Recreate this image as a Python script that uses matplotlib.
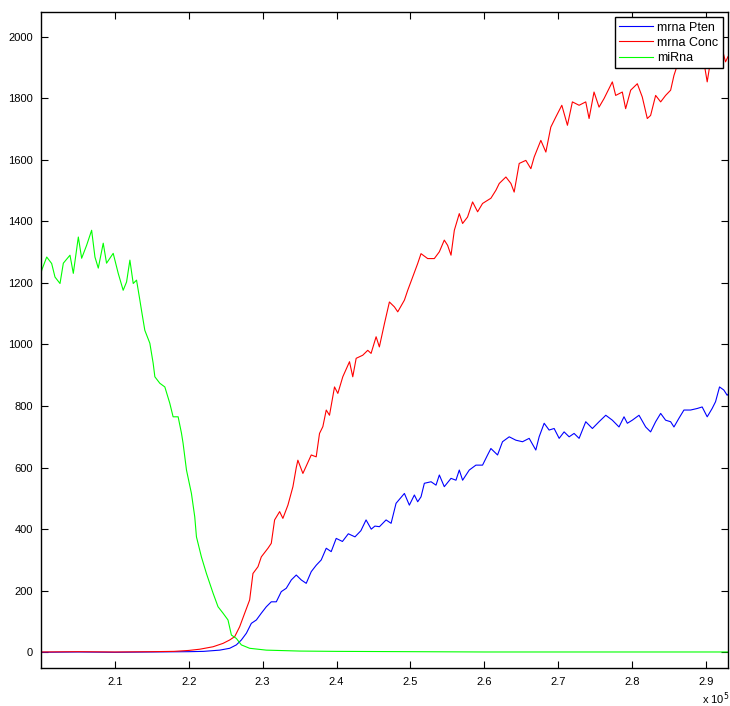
import numpy as np
import matplotlib
matplotlib.use('Agg')
import matplotlib.pyplot as plt
from matplotlib.ticker import FuncFormatter

plt.rcParams['font.family'] = ['Liberation Sans', 'DejaVu Sans']

# time axis values are in units of 1e5
green_x = [2.000, 2.0009, 2.0077, 2.0144, 2.0189, 2.0257, 2.0302, 2.0392, 2.0437, 2.0505,
           2.055, 2.0617, 2.0685, 2.073, 2.0775, 2.0842, 2.0887, 2.0977, 2.1045, 2.1112,
           2.1158, 2.1203, 2.1248, 2.1293, 2.1338, 2.136, 2.1405, 2.1473, 2.1518, 2.1541,
           2.1608, 2.1676, 2.1743, 2.1788, 2.1856, 2.1901, 2.1923, 2.1969, 2.2036, 2.2081,
           2.2104, 2.2171, 2.2239, 2.2284, 2.2329, 2.2396, 2.2464, 2.2531, 2.2577, 2.2644,
           2.2712, 2.2824, 2.305, 2.35, 2.40, 2.50, 2.60, 2.70, 2.80, 2.93]
green_y = [1230, 1241, 1284, 1263, 1219, 1198, 1264, 1290, 1231, 1349,
           1280, 1322, 1371, 1284, 1248, 1329, 1264, 1296, 1231, 1176,
           1203, 1274, 1198, 1209, 1144, 1111, 1046, 1004, 939, 895,
           874, 862, 809, 765, 765, 712, 679, 592, 516, 440,
           375, 310, 256, 224, 192, 148, 127, 105, 56, 45,
           24, 13, 7, 4, 3, 2, 1, 1, 1, 1]

red_x = [2.00, 2.05, 2.10, 2.15, 2.18, 2.20, 2.2149, 2.2329, 2.2464, 2.2554,
         2.2622, 2.2689, 2.2757, 2.2824, 2.2869, 2.2937, 2.2982, 2.3072, 2.3117, 2.3162,
         2.323, 2.3274, 2.3342, 2.341, 2.3455, 2.3477, 2.3545, 2.3658, 2.3725, 2.377,
         2.3815, 2.3861, 2.3905, 2.3973, 2.4018, 2.4085, 2.4176, 2.422, 2.4266, 2.4355,
         2.4423, 2.4468, 2.4536, 2.458, 2.4649, 2.4716, 2.4784, 2.4829, 2.4919, 2.4964,
         2.5031, 2.5099, 2.5144, 2.5234, 2.5324, 2.5392, 2.5459, 2.5504, 2.555, 2.5595,
         2.5662, 2.5707, 2.5774, 2.5842, 2.591, 2.5977, 2.6023, 2.609, 2.6158, 2.6203,
         2.6293, 2.6361, 2.6405, 2.6473, 2.6563, 2.6631, 2.6676, 2.6766, 2.6834, 2.6901,
         2.6969, 2.705, 2.7126, 2.7193, 2.7284, 2.7374, 2.7419, 2.7486, 2.7554, 2.7622,
         2.7734, 2.7779, 2.7869, 2.7914, 2.7982, 2.8072, 2.8139, 2.8207, 2.8252, 2.832,
         2.8388, 2.8455, 2.8523, 2.8568, 2.8635, 2.8726, 2.8815, 2.8905, 2.8973, 2.9018,
         2.9064, 2.9108, 2.9176, 2.922, 2.9266, 2.93]
red_y = [1, 2, 1, 2, 3, 6, 10, 18, 29, 40,
         51, 83, 127, 170, 256, 278, 310, 338, 354, 430,
         457, 435, 478, 538, 600, 624, 581, 641, 635, 711,
         733, 787, 770, 862, 841, 895, 944, 895, 955, 965,
         981, 971, 1025, 992, 1068, 1138, 1122, 1106, 1144, 1176,
         1219, 1263, 1295, 1279, 1279, 1301, 1339, 1322, 1290, 1371,
         1425, 1393, 1414, 1463, 1431, 1458, 1465, 1475, 1501, 1523,
         1544, 1523, 1495, 1588, 1598, 1571, 1609, 1663, 1625, 1706,
         1739, 1777, 1712, 1788, 1777, 1788, 1734, 1820, 1771, 1799,
         1853, 1809, 1820, 1766, 1826, 1847, 1804, 1734, 1744, 1809,
         1788, 1809, 1826, 1874, 1923, 1901, 1912, 1923, 1918, 1853,
         1923, 1988, 1945, 1961, 1918, 1935]

blue_x = [2.00, 2.05, 2.10, 2.15, 2.20, 2.22, 2.2419, 2.2554, 2.2644, 2.2712,
          2.278, 2.2847, 2.2915, 2.2982, 2.305, 2.3117, 2.3185, 2.3252, 2.332, 2.3388,
          2.3455, 2.3523, 2.359, 2.3658, 2.3726, 2.3793, 2.3861, 2.3928, 2.3996, 2.408,
          2.416, 2.425, 2.433, 2.44, 2.447, 2.452, 2.4581, 2.4671, 2.4739, 2.4806,
          2.4919, 2.4986, 2.5054, 2.5099, 2.5144, 2.5189, 2.528, 2.5347, 2.5392, 2.5459,
          2.555, 2.5617, 2.5662, 2.5707, 2.5797, 2.5887, 2.5977, 2.6045, 2.609, 2.618,
          2.6247, 2.6338, 2.6428, 2.6518, 2.6608, 2.6698, 2.6743, 2.6811, 2.6878, 2.6946,
          2.7014, 2.7081, 2.7149, 2.7216, 2.7284, 2.7374, 2.7464, 2.7554, 2.7645, 2.7734,
          2.7824, 2.7892, 2.7937, 2.8004, 2.8095, 2.8185, 2.8252, 2.832, 2.8388, 2.8455,
          2.8523, 2.8568, 2.8635, 2.8703, 2.8793, 2.8883, 2.895, 2.9018, 2.9085, 2.9131,
          2.9185, 2.9243, 2.9288, 2.93]
blue_y = [0, 1, 0, 1, 2, 3, 7, 13, 24, 40,
          62, 94, 105, 127, 148, 164, 164, 197, 208, 235,
          251, 235, 224, 262, 283, 300, 338, 327, 370, 360,
          385, 375, 395, 430, 400, 410, 408, 430, 419, 484,
          516, 478, 511, 489, 505, 549, 554, 543, 576, 538,
          565, 559, 592, 559, 592, 608, 608, 641, 662, 641,
          684, 700, 689, 684, 695, 657, 700, 744, 722, 727,
          695, 716, 700, 711, 695, 749, 727, 749, 770, 754,
          732, 765, 744, 754, 770, 732, 716, 749, 776, 754,
          749, 732, 760, 787, 787, 792, 797, 765, 792, 814,
          862, 852, 835, 838]

x_ticks = [2.1, 2.2, 2.3, 2.4, 2.5, 2.6, 2.7, 2.8, 2.9]
y_ticks = [0, 200, 400, 600, 800, 1000, 1200, 1400, 1600, 1800, 2000]

fig = plt.figure(figsize=(7.3, 7.06), dpi=100)
ax = fig.add_axes([0.0562, 0.0534, 0.9411, 0.9296])

ax.plot(np.array(blue_x) * 1e5, blue_y, color=(0, 0, 1), lw=0.8, label='mrna Pten')
ax.plot(np.array(red_x) * 1e5, red_y, color=(1, 0, 0), lw=0.8, label='mrna Conc')
ax.plot(np.array(green_x) * 1e5, green_y, color=(0, 1, 0), lw=0.8, label='miRna')

ax.set_xlim(2.0e5, 2.93e5)
ax.set_ylim(-52, 2080)
ax.set_xticks(np.array(x_ticks) * 1e5)
ax.xaxis.set_major_formatter(FuncFormatter(lambda v, p: '%.1f' % (v / 1e5)))
ax.set_yticks(y_ticks)

ax.tick_params(direction='in', length=5, width=0.8, top=True, right=True,
               labelsize=8, pad=6)
for s in ax.spines.values():
    s.set_linewidth(1.0)

# exponent label under the right end of the x axis
fig.text(0.961, 0.004, r'x 10$^{5}$', fontsize=8, va='baseline')

leg = ax.legend(loc='upper right', bbox_to_anchor=(0.992, 0.992), borderaxespad=0,
                fontsize=9, fancybox=False, framealpha=1, edgecolor='black',
                handlelength=2.7, labelspacing=0.25, borderpad=0.35, handletextpad=0.35)
leg.get_frame().set_linewidth(1.0)

fig.savefig('out.png', dpi=100)
